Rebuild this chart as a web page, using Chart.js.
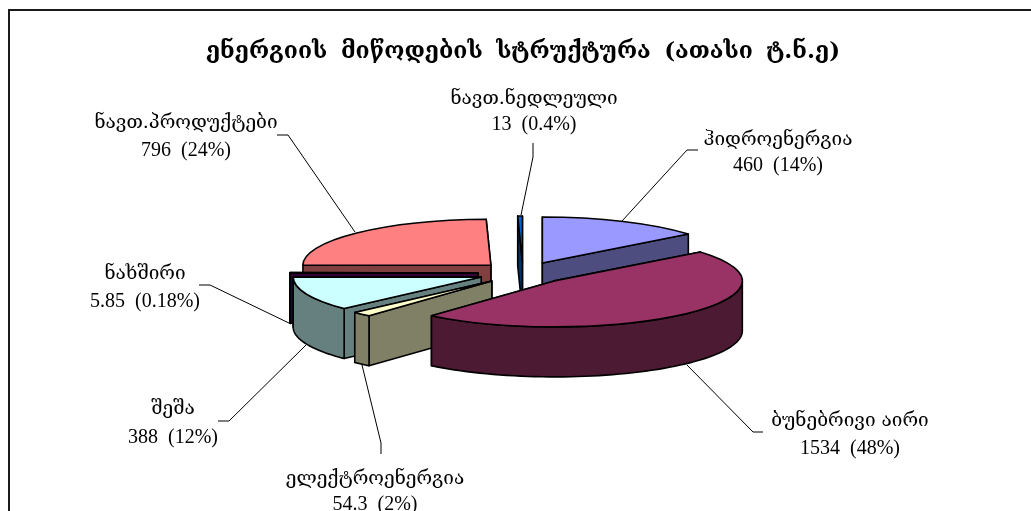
<!DOCTYPE html>
<html><head><meta charset="utf-8">
<style>html,body{margin:0;padding:0;background:#fff}#w{width:1031px;height:511px;position:relative;overflow:hidden}</style>
<script src="https://cdn.jsdelivr.net/npm/chart.js@4"></script>
</head><body><div id="w"><canvas id="c" width="1031" height="511"></canvas></div>
<script>
const categories = ["ჰიდროენერგია","ბუნებრივი აირი","ელექტროენერგია","შეშა","ნახშირი","ნავთ.პროდუქტები","ნავთ.ნედლეული"];
const values = [460,1534,54.3,388,5.85,796,13];
const valueTexts = ["460","1534","54.3","388","5.85","796","13"];
const percentTexts = ["14%","48%","2%","12%","0.18%","24%","0.4%"];
const topColors = ["#9999FF","#993366","#FFFFCC","#CCFFFF","#660066","#FF8080","#0066CC"];
const wallColors = ["#4D4D80","#4D1A33","#808066","#668080","#330033","#804040","#003366"];
const titleText = "ენერგიის მიწოდების სტრუქტურა (ათასი ტ.ნ.ე)";
// label placement: [centre x, name y, value y], leader polyline
const labelPos = [[778,140,166],[850,421,449],[375,479,505],[173,409,438],[145,274,302],[186,123,151],[534,99,125]];
const leaders = [
 [[698,150],[687,150],[622,221]],
 [[763,432],[753,432],[687,365]],
 [[381,454],[381,443],[362,365]],
 [[218,421],[229,421],[306,345]],
 [[199,285],[210,285],[291,324]],
 [[277,135],[288,135],[355,232]],
 [[533,143],[533,157],[521,215]]
];
const drawOrder = [5,6,0,4,3,2,1];
const SQUASH = 46/188, EXPLODE = 45, DEPTH = 50;
const SERIF = '"Liberation Serif"', GEO = '"DejaVu Serif"';

function project(arc, angle, mid, drop){
  const ex = Math.cos(mid)*EXPLODE, ey = Math.sin(mid)*EXPLODE*SQUASH;
  return [arc.x+ex+Math.cos(angle)*arc.outerRadius, arc.y+ey+Math.sin(angle)*arc.outerRadius*SQUASH+drop];
}
function apex(arc, mid, drop){
  return [arc.x+Math.cos(mid)*EXPLODE, arc.y+Math.sin(mid)*EXPLODE*SQUASH+drop];
}
function poly(ctx, pts, fill){
  ctx.beginPath();
  pts.forEach((p,i)=> i?ctx.lineTo(p[0],p[1]):ctx.moveTo(p[0],p[1]));
  ctx.closePath();
  ctx.fillStyle=fill; ctx.fill(); ctx.stroke();
}
const pie3d = {
  id:'pie3d',
  beforeDraw(chart){
    const ctx=chart.ctx; ctx.save();
    ctx.fillStyle='#fff'; ctx.fillRect(0,0,chart.width,chart.height);
    ctx.strokeStyle='#1a1a1a'; ctx.lineWidth=2;
    ctx.strokeRect(9,10,1100,700);
    ctx.restore();
    ctx.wordSpacing='5.5px';
  },
  beforeDatasetDraw(chart){
    const ctx=chart.ctx, arcs=chart.getDatasetMeta(0).data;
    ctx.wordSpacing='0px';
    ctx.save();
    ctx.lineJoin='round'; ctx.strokeStyle='#000'; ctx.lineWidth=1.6;
    drawOrder.forEach(i=>{
      const arc=arcs[i], a=arc.startAngle, b=arc.endAngle, mid=(a+b)/2;
      // radial walls, the one further back first
      [a,b].sort((p,q)=>Math.sin(p)-Math.sin(q)).forEach(t=>{
        poly(ctx,[apex(arc,mid,0),project(arc,t,mid,0),project(arc,t,mid,DEPTH),apex(arc,mid,DEPTH)],wallColors[i]);
      });
      // outer wall: the part of the rim on the front half
      const segs=[[0,Math.PI],[2*Math.PI,3*Math.PI]];
      segs.forEach(([s,e])=>{
        const lo=Math.max(a,s), hi=Math.min(b,e);
        if(hi<=lo) return;
        const up=[],down=[];
        for(let k=0;k<=60;k++){const t=lo+(hi-lo)*k/60; up.push(project(arc,t,mid,0)); down.unshift(project(arc,t,mid,DEPTH));}
        poly(ctx,up.concat(down),wallColors[i]);
      });
      // top face, drawn by the library's arc element, then outlined
      ctx.save();
      const ap=apex(arc,mid,0);
      ctx.translate(ap[0],ap[1]); ctx.scale(1,SQUASH); ctx.translate(-arc.x,-arc.y);
      arc.draw(ctx);
      ctx.beginPath();
      ctx.moveTo(arc.x,arc.y); ctx.arc(arc.x,arc.y,arc.outerRadius,a,b); ctx.closePath();
      ctx.restore();
      ctx.stroke();
    });
    ctx.restore();
    return false;
  },
  afterDraw(chart){
    const ctx=chart.ctx; ctx.save();
    ctx.strokeStyle='#000'; ctx.lineWidth=1;
    leaders.forEach(l=>{ctx.beginPath();l.forEach((p,i)=>i?ctx.lineTo(p[0],p[1]):ctx.moveTo(p[0],p[1]));ctx.stroke();});
    ctx.fillStyle='#000'; ctx.textAlign='center'; ctx.textBaseline='middle';
    categories.forEach((c,i)=>{
      const p=labelPos[i];
      ctx.font='19px '+GEO; ctx.fillText(c,p[0],p[1]);
      ctx.font='20px '+SERIF; ctx.fillText(valueTexts[i]+'  ('+percentTexts[i]+')',p[0],p[2]);
    });
    ctx.restore();
  }
};
new Chart(document.getElementById('c'),{
  type:'pie',
  data:{labels:categories,datasets:[{data:values,backgroundColor:topColors,borderWidth:0,offset:0}]},
  options:{
    responsive:false,animation:false,
    layout:{padding:{left:15,right:0,top:38,bottom:50}},
    plugins:{legend:{display:false},tooltip:{enabled:false},
      title:{display:true,text:titleText,color:'#000',font:{family:GEO,size:23,weight:'bold'},padding:{top:0,bottom:19.4}}}
  },
  plugins:[pie3d]
});
</script></body></html>
